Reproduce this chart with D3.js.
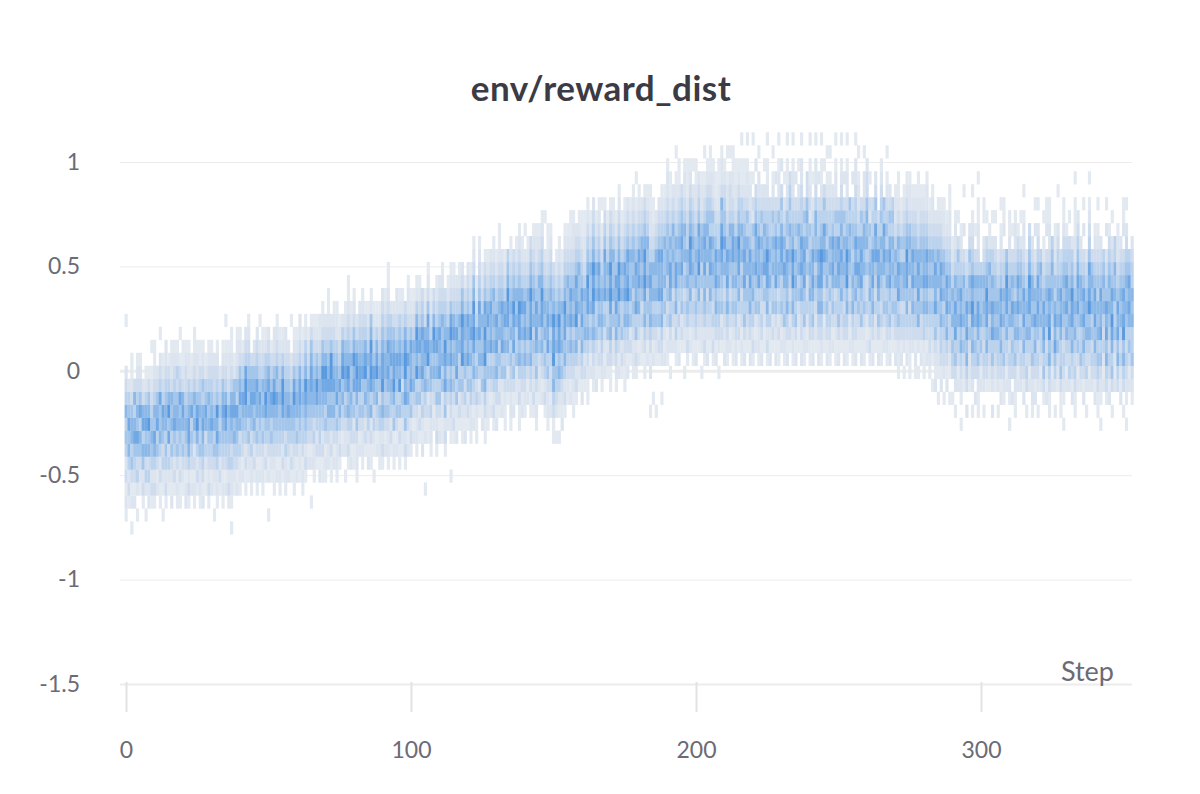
<!DOCTYPE html>
<html>
<head>
<meta charset="utf-8">
<script src="https://cdn.jsdelivr.net/npm/d3@7/dist/d3.min.js"></script>
<style>
  body { margin: 0; background: #fff; }
  text { font-family: "Source Sans Pro", Lato, "Noto Sans", sans-serif; }
</style>
</head>
<body>
<div id="chart"></div>
<script>
// ---- data -------------------------------------------------------------
const title = "env/reward_dist";
const xLabel = "Step";
const xTicks = [0, 100, 200, 300];
const yTicks = [-1.5, -1, -0.5, 0, 0.5, 1];

// histogram bins (reward value), shared by every step
const binLow = -0.783;
const binSize = 0.0621;

// one entry per step: "firstBin:intensities" (0 = empty bin, 9 = densest)
const counts = [
  // 0 - 39
  "1:1213245464320001","2:1324657542","0:10213546653211","2:2134576463","1:1024357564321","3:12356475321","2:1325647632","1:102436576421","2:22436586531","2:1324565432101",
  "2:1324675643211","3:2135476532","2:11324655743201","1:1012435674321","2:1324546654322","3:12437586431","2:2123546563221","3:132457654321","2:1213546653421","2:11324565743101",
  "3:123546763211","2:2213456543321","2:1324677654221","3:21345475321","2:12132465643211","3:132468753221","2:1223545654311","2:2134567645321","3:11243675421","2:1323456564321",
  "3:213457654321","1:1012354654332","2:1224576854321","3:1324545432","2:1213456765321","3:21345786432101","2:1324455643221","0:1012243567643211","3:12346576521","3:2134567453221",
  // 40 - 69
  "3:1224365765321","4:21345675431","3:1132456887432","4:1235465654321","3:12243567653","4:13246576532","3:1213546675432","4:2134567543201","3:1223546564321","4:132457865421",
  "1:100213456676432","4:12354675431","3:1123456875322","4:2134567564321","3:1213455654321","4:132457886421","3:1224356654322","4:21345765432","4:1324565432001","3:1123456875321",
  "4:213546654321","4:1224567764322","3:1213445654321","4:1324567865421","5:21345664321","2:100213456776531","4:1224356654321","5:132457865321","4:2134456654322","4:11324567865321",
  // 70 - 99
  "4:1213546786432","5:22346576543211","4:1132465788532","5:2134657654321","4:12235476654221","5:132465754321","6:21346587642","4:10223546765321","5:132465786543211","5:2134565564321",
  "5:11325476865321","4:1223546787532","6:213547765432","5:12235457654321","6:132465876431","5:2124556564321","5:11326478786521","4:10124356754321","6:213465876421","5:1224535654321",
  "5:13246587765432","6:2135456654321","5:1223546767543211","6:132456576542","5:1215468776532","6:2135456754322","5:11325486765421","6:1224535654321","5:1325476887643","6:21346557543221",
  // 100 - 129
  "6:1325476675321","7:213465564321","6:12235486786421","7:1325465764321","6:2124357667543","3:1000213465676321","7:11325487675321","6:1224356564321","8:21346578643","6:13235465764321",
  "7:2135476675432","7:11225465564321","6:1325476786543","8:213546564321","4:10012346576875321","7:13235465764321","7:2125476675432","8:1325446564321","7:11235487786532","7:2124356566431",
  "8:1325476675432","7:12245465764321","8:213465787865321","7:1124354564321","9:13246576754321","8:2125465564321","7:113465878675431","8:12235465764321","9:2135476675432","8:132454656564321",
  // 130 - 159
  "8:21346576754321","9:132454656543211","9:2125476675432","8:11235465764321","10:132465778654","8:122345465654321","9:2135476786543","10:1225446564321","8:1132465778654321","9:21345465764321",
  "9:123465767543201","10:2135465564321","9:11346587786543","9:132345465654321","8:1213546767543221","10:12235465564321","10:213465778654321","9:1324546565432001","8:1223547676543211","9:213345465654321",
  "7:11346587786543","7:102345465654321","7:1012465778654321","8:21235465564321","9:132465778654321","10:12345465564321","10:213465767543211","9:1123454656543221","10:13246587675432","11:12335465564321",
  // 160 - 189
  "10:213465767543211","11:13246556432211","10:1123465778654321","12:2135465564321","11:123465787865432","11:21235446564321","12:13246576754321","11:123456565432101","12:21235476675431","12:1325446564321",
  "11:113465787865431","13:2235465564321","11:12346576754321","12:213465878654321","12:1325446564321","11:112346576754321","12:21346587675432","13:1325465564321","12:122345465654321","12:1325476675432101",
  "13:21346576754321","13:1224356566432","12:113465787865431","13:21345465564321","9:100213465676432211","10:1002135465643211","9:1000123546566432","13:1325476675432","10:10023465766754321","13:21235465564321",
  // 190 - 219
  "13:1214354665543221","12:1023546775643211","14:2134355656432","13:12436577564322101","13:2124345656543211","14:1325457676543","12:10123435465643221","13:1324546564432111","14:213465778654321","13:1123435656543201",
  "13:2134546565432211","14:12346587675432","12:1022343546653221","13:13245657676432101","13:2123435465654321","14:1234657674543211","13:1324345656453221","13:213465767543211","12:10234546564432211","14:1325456787563221",
  "13:2123434657554321","13:12346576754322101","14:2134345656433201","13:11235465776432211","13:2234546566432211","14:132465778654321","13:121343546564421101","13:2135457676543211","14:12345465645322101","13:213465767543221",
  // 220 - 269
  "13:132446565452301001","14:212545766754302","13:12235476675432201","13:21343456564532","14:112354765643201","13:132465778654321101","13:2124346565443","14:1325446564532101","13:212354766754302","13:113243565645322101",
  "14:213544677645302","13:122544675643201","13:213465667455321101","14:13243456564543","13:122465878654322101","13:213545656454302","14:112354655643201","13:213346576754432201","13:1225457676453","14:21243354656533",
  "13:113446565452321101","13:213546767543201","14:12234546566432201","13:213465767544302","13:123465778654321101","14:121434576745301","13:21345465645432101","13:12343546564432101","14:2135467675432","13:112343656645322101",
  "13:2135446767453","14:12346567565432101","13:213434565645302","13:113465878654322101","14:212434565645","13:123465654554302","13:213346576754432201","14:1235467564322101","13:2125457676453","13:11235446566432201",
  "14:212433546565332","13:132446565452301","13:2134657675443","14:12243457674532","13:213546767543","13:1124345656454321","14:213544676745","13:12345465645432101","13:21354576764532","14:123545656454",
  // 270 - 289
  "13:21345465643221","12:1123547675643211","13:2134355645321","12:102343566454321","13:213465778654321","12:1123435465653221","14:2346576754321","12:121345465654321","12:1023657676432211","13:21335465654321",
  "12:112446576654321","13:213465767543221","12:12334546564321","11:1012345465643221","11:21235476675432","10:1012234546564321","11:213446576754321","10:1023345465653221","11:21346576754321","10:10123446565432211",
  // 290 - 353
  "10:1034546564321","9:1023547675643221","11:21344656545301","8:1012346576754321","10:01235465564302001","9:2034657675432","11:1223546564532","9:102346578675432101","10:20345465564301","9:1123546775643221101",
  "11:2135465564","9:10234345656432011","10:013465778654301","11:1234546556421","9:2023547675644201","11:12346565543201","9:1023446565432","10:2134657675432101","9:01235446564430211","11:21346577865",
  "8:10123434656543211","10:20345467564301","9:1123546564543221","11:2134657675431","9:0023435465654201","10:21346576754322101","9:1034346565432","11:2134657786543","9:12235446566432","10:2134657564320201",
  "9:10234356767543201","11:21344656564","9:0135467675432101","10:2124346565430211","9:11346587675432211","11:213434565654","9:102457676453211","10:01235465654432001","9:1135446767543","8:101234345656543211",
  "11:2134657675431","9:0024345656544301","10:2134657786542","9:1134346565432211101","11:21354576765432","9:00235446566432","10:2134657675430201","9:1024346565432","11:21346587675432101","9:0023435465653",
  "10:21346576754321","9:11345465645432101","8:101235476675432","11:21243465654","9:01346576754320201","10:21343456565431","9:1035467867543201","11:212354465644","9:003465767543221","10:2124346565432",
  "9:10346587675430211","8:101234345656543201","11:21354676754","9:01235446564432"
];

// ---- layout -----------------------------------------------------------
const width = 1200, height = 794;
const plotLeft = 120, plotRight = 1132;

const svg = d3.select("#chart").append("svg")
  .attr("width", width)
  .attr("height", height);

const x = d3.scaleLinear().domain([0, 300]).range([126, 981]);
const y = d3.scaleLinear().domain([-1.5, 1]).range([684, 162]);
const color = d3.scaleLinear()
  .domain([1, 2, 3, 4, 5, 6, 7, 8, 9])
  .range(["#e3e9f0", "#dbe4ef", "#cedcee", "#bcd3ee", "#a5c6eb", "#8cb8e8", "#72a9e4", "#5899df", "#3e8bdb"])
  .interpolate(d3.interpolateRgb);

// flatten the per-step histograms into cells
const cells = [];
counts.forEach((row, step) => {
  const [start, digits] = row.split(":");
  const s = +start;
  for (let j = 0; j < digits.length; j++) {
    const v = +digits[j];
    if (v > 0) cells.push({ step: step, bin: s + j, v: v });
  }
});

// ---- gridlines (y axis) -----------------------------------------------
const yAxis = d3.axisLeft(y)
  .tickValues(yTicks)
  .tickSize(-(plotRight - plotLeft))
  .tickPadding(40)
  .tickFormat(d => String(d));

const gy = svg.append("g")
  .attr("class", "y axis")
  .attr("transform", `translate(${plotLeft},0)`)
  .call(yAxis);
gy.select(".domain").remove();
gy.selectAll(".tick line")
  .attr("stroke", "#ececec")
  .attr("stroke-width", d => d === 0 ? 3 : (d === -1.5 ? 2 : 1));
gy.selectAll(".tick text")
  .attr("fill", "#6b6b76")
  .style("font-size", "23px");

// ---- histogram cells ---------------------------------------------------
const colW = x(1) - x(0);
svg.append("g")
  .attr("class", "cells")
  .selectAll("rect")
  .data(cells)
  .enter().append("rect")
    .attr("x", d => x(d.step) - colW / 2)
    .attr("width", colW + 0.3)
    .attr("y", d => y(binLow + (d.bin + 1) * binSize))
    .attr("height", d => y(binLow + d.bin * binSize) - y(binLow + (d.bin + 1) * binSize) + 0.3)
    .attr("fill", d => color(d.v));

// ---- x axis --------------------------------------------------------------
const xAxis = d3.axisBottom(x)
  .tickValues(xTicks)
  .tickSize(30)
  .tickPadding(30);

const gx = svg.append("g")
  .attr("class", "x axis")
  .attr("transform", "translate(0,682)")
  .call(xAxis);
gx.select(".domain").remove();
gx.selectAll(".tick line")
  .attr("stroke", "#e2e2e2")
  .attr("stroke-width", 2);
gx.selectAll(".tick text")
  .attr("fill", "#6b6b76")
  .style("font-size", "23px");

svg.append("text")
  .attr("x", 1114)
  .attr("y", 681)
  .attr("text-anchor", "end")
  .attr("fill", "#6b6b76")
  .style("font-size", "27px")
  .text(xLabel);

// ---- title -----------------------------------------------------------------
svg.append("text")
  .attr("x", 601)
  .attr("y", 101)
  .attr("text-anchor", "middle")
  .attr("fill", "#3b3b45")
  .style("font-size", "35px")
  .style("font-weight", "bold")
  .style("letter-spacing", "0.5px")
  .text(title);
</script>
</body>
</html>
